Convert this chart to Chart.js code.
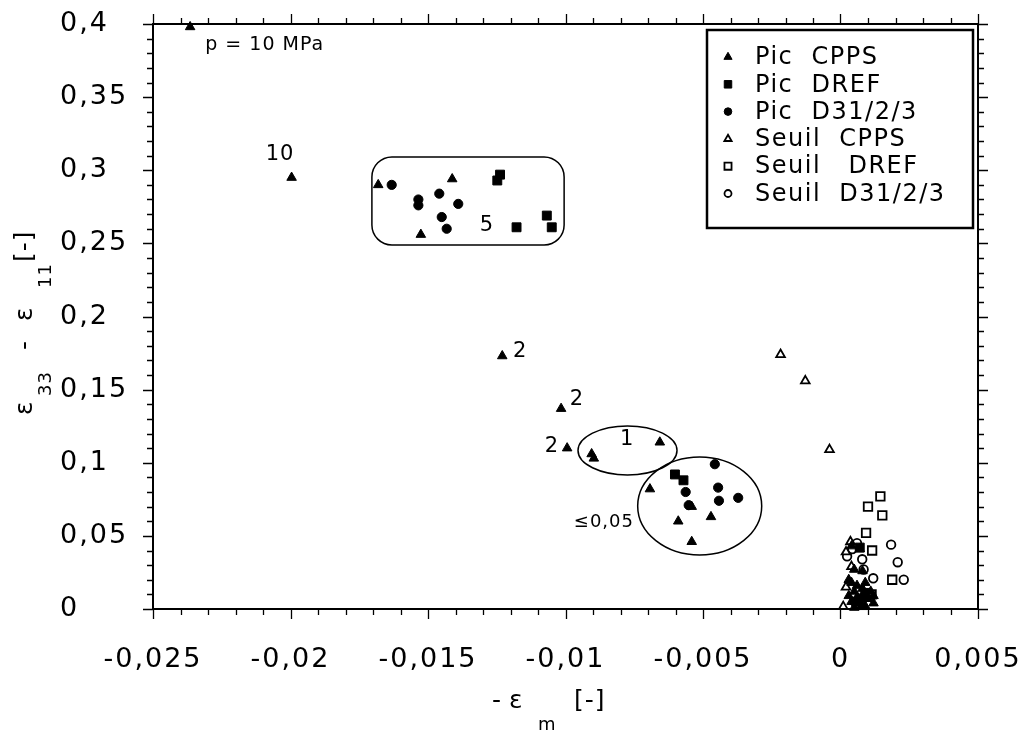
<!DOCTYPE html>
<html>
<head>
<meta charset="utf-8">
<script src="https://cdn.jsdelivr.net/npm/chart.js@4.4.0/dist/chart.umd.min.js"></script>
<style>
  html, body { margin: 0; padding: 0; background: #fff; }
  #wrap { width: 1022px; height: 731px; }
</style>
</head>
<body>
<div id="wrap"><canvas id="chart" width="1022" height="731"></canvas></div>
<script>
// Axis ranges and tick steps
const xRange = [-0.025, 0.005];
const yRange = [0, 0.4];
const xTickStep = 0.001;
const yTickStep = 0.01;

// Series: x = -eps_m, y = eps33 - eps11
const picCppsX = [-0.02365, -0.01996, -0.01681, -0.01412, -0.01526, -0.0123, -0.01016, -0.00994, -0.00905, -0.00897,
  -0.00657, -0.00693, -0.0059, -0.00471, -0.00541, -0.00541,
  0.0004, 0.0007, 0.0005, 0.0008, 0.0004, 0.0006, 0.0008, 0.0005, 0.0009, 0.0006, 0.0010, 0.0004, 0.0007, 0.0009, 0.0005, 0.0012,
  0.0003, 0.0009, 0.0011, 0.0003, 0.0012, 0.0008];
const picCppsY = [0.398, 0.295, 0.290, 0.294, 0.256, 0.173, 0.137, 0.110, 0.106, 0.103,
  0.114, 0.082, 0.060, 0.063, 0.046, 0.070,
  0.043, 0.041, 0.027, 0.026, 0.018, 0.016, 0.014, 0.012, 0.010, 0.008, 0.007, 0.005, 0.004, 0.002, 0.001, 0.004,
  0.020, 0.018, 0.012, 0.009, 0.009, 0.0015];

const picDrefX = [-0.01238, -0.01248, -0.01178, -0.01068, -0.0105, -0.00602, -0.00571, 0.0007, 0.0009];
const picDrefY = [0.297, 0.293, 0.261, 0.269, 0.261, 0.092, 0.088, 0.042, 0.011];

const picD31X = [-0.01632, -0.01535, -0.01535, -0.01459, -0.0139, -0.0145, -0.01432,
  -0.00457, -0.00563, -0.00445, -0.00442, -0.00372, -0.00552, 0.0008, 0.0005];
const picD31Y = [0.290, 0.280, 0.276, 0.284, 0.277, 0.268, 0.260,
  0.099, 0.080, 0.083, 0.074, 0.076, 0.071, 0.008, 0.005];

const seuilCppsX = [-0.00218, -0.00128, -0.0004, 0.00036, 0.0002, 0.0004, 0.0002, 0.0001, 0.0008];
const seuilCppsY = [0.174, 0.156, 0.109, 0.046, 0.039, 0.029, 0.015, 0.0016, 0.003];

const seuilDrefX = [0.00145, 0.001, 0.00152, 0.00093, 0.00115, 0.00188, 0.00113, 0.0006];
const seuilDrefY = [0.077, 0.070, 0.064, 0.052, 0.040, 0.020, 0.010, 0.004];

const seuilD31X = [0.00184, 0.00208, 0.0023, 0.00079, 0.00024, 0.00119, 0.00043, 0.00084, 0.0006];
const seuilD31Y = [0.044, 0.032, 0.020, 0.034, 0.036, 0.021, 0.041, 0.027, 0.045];

const seriesLabels = ['Pic  CPPS', 'Pic  DREF', 'Pic  D31/2/3', 'Seuil  CPPS', 'Seuil   DREF', 'Seuil  D31/2/3'];

// Text notes and outlines placed in data units
const noteTexts = ['p = 10 MPa', '10', '5', '2', '2', '2', '1', '\u22640,05'];
const noteX = [-0.0231, -0.02038, -0.01286, -0.01165, -0.00958, -0.01049, -0.00776, -0.00751];
const noteY = [0.3856, 0.3104, 0.2619, 0.1757, 0.1429, 0.1108, 0.1156, 0.0595];
const noteAlign = ['left', 'center', 'center', 'center', 'center', 'center', 'center', 'right'];
const noteSize = [19, 21, 21, 21, 21, 21, 21, 18];

const boxCorners = [-0.01704, 0.3091, -0.01005, 0.2489];            // x1, y1, x2, y2
const ellipseSpecs = [[-0.007745, 0.1084, 0.0018, 0.01675],        // cx, cy, rx, ry
                      [-0.00512, 0.0704, 0.002255, 0.0335]];

const FONT = 'DejaVu Sans';

function toPoints(xs, ys) {
  return xs.map((x, i) => ({ x: x, y: ys[i] }));
}

function fmt(v) {
  return parseFloat(v.toFixed(3)).toString().replace('.', ',');
}

const filled = { backgroundColor: '#000', borderColor: '#000', borderWidth: 1 };
const hollow = { backgroundColor: '#fff', borderColor: '#000', borderWidth: 1.8 };

const datasets = [
  Object.assign({ label: seriesLabels[0], data: toPoints(picCppsX, picCppsY), pointStyle: 'triangle', pointRadius: 5.5 }, filled),
  Object.assign({ label: seriesLabels[1], data: toPoints(picDrefX, picDrefY), pointStyle: 'rect', pointRadius: 6.3 }, filled),
  Object.assign({ label: seriesLabels[2], data: toPoints(picD31X, picD31Y), pointStyle: 'circle', pointRadius: 4.6 }, filled),
  Object.assign({ label: seriesLabels[3], data: toPoints(seuilCppsX, seuilCppsY), pointStyle: 'triangle', pointRadius: 5 }, hollow),
  Object.assign({ label: seriesLabels[4], data: toPoints(seuilDrefX, seuilDrefY), pointStyle: 'rect', pointRadius: 6 }, hollow),
  Object.assign({ label: seriesLabels[5], data: toPoints(seuilD31X, seuilD31Y), pointStyle: 'circle', pointRadius: 4.3 }, hollow)
];
datasets.forEach(d => { d.clip = 10; d.pointHoverRadius = d.pointRadius; });

// wider letter spacing for the tick labels, like the scanned original
const spacingPlugin = {
  id: 'spacing',
  beforeDraw(chart) { chart.ctx.letterSpacing = '2px'; },
  afterDraw(chart) { chart.ctx.letterSpacing = '0px'; }
};

// Frame, outward ticks (long at labelled values), notes, legend and axis titles
const decorPlugin = {
  id: 'decor',
  afterDatasetsDraw(chart) {
    const ctx = chart.ctx;
    const a = chart.chartArea;
    const xs = chart.scales.x;
    const ys = chart.scales.y;
    ctx.save();
    ctx.letterSpacing = '1px';
    ctx.strokeStyle = '#000';
    ctx.fillStyle = '#000';

    // frame
    ctx.lineWidth = 2;
    ctx.strokeRect(a.left, a.top, a.right - a.left, a.bottom - a.top);

    // ticks
    ctx.lineWidth = 1.3;
    ctx.beginPath();
    xs.ticks.forEach(t => {
      const px = Math.round(xs.getPixelForValue(t.value)) + 0.5;
      const major = Math.round(t.value * 1000) % 5 === 0;
      const len = major ? 10 : 6;
      ctx.moveTo(px, a.bottom); ctx.lineTo(px, a.bottom + len);
      ctx.moveTo(px, a.top); ctx.lineTo(px, a.top - len);
    });
    ys.ticks.forEach(t => {
      const py = Math.round(ys.getPixelForValue(t.value)) + 0.5;
      const major = Math.round(t.value * 100) % 5 === 0;
      const len = major ? 10 : 6;
      ctx.moveTo(a.left, py); ctx.lineTo(a.left - len, py);
      ctx.moveTo(a.right, py); ctx.lineTo(a.right + len, py);
    });
    ctx.stroke();

    // rounded box and ellipses
    ctx.lineWidth = 1.5;
    const bx1 = xs.getPixelForValue(boxCorners[0]), by1 = ys.getPixelForValue(boxCorners[1]);
    const bx2 = xs.getPixelForValue(boxCorners[2]), by2 = ys.getPixelForValue(boxCorners[3]);
    ctx.beginPath();
    ctx.roundRect(bx1, by1, bx2 - bx1, by2 - by1, 20);
    ctx.stroke();
    ellipseSpecs.forEach(e => {
      const cx = xs.getPixelForValue(e[0]);
      const cy = ys.getPixelForValue(e[1]);
      const rx = xs.getPixelForValue(e[0] + e[2]) - cx;
      const ry = cy - ys.getPixelForValue(e[1] + e[3]);
      ctx.beginPath();
      ctx.ellipse(cx, cy, rx, ry, 0, 0, Math.PI * 2);
      ctx.stroke();
    });

    // notes
    ctx.textBaseline = 'middle';
    noteTexts.forEach((txt, i) => {
      ctx.font = noteSize[i] + 'px "' + FONT + '"';
      ctx.textAlign = noteAlign[i];
      ctx.fillText(txt, xs.getPixelForValue(noteX[i]), ys.getPixelForValue(noteY[i]));
    });

    // legend
    const lw = 266, lh = 198;
    const lx = a.right - 5 - lw, ly = a.top + 6;
    ctx.fillStyle = '#fff';
    ctx.fillRect(lx, ly, lw, lh);
    ctx.lineWidth = 2.5;
    ctx.strokeRect(lx, ly, lw, lh);
    ctx.font = '24px "' + FONT + '"';
    ctx.letterSpacing = '1.5px';
    ctx.textAlign = 'left';
    chart.data.datasets.forEach((d, i) => {
      const cy = ly + 27 + i * 27.3;
      ctx.fillStyle = d.backgroundColor;
      ctx.strokeStyle = d.borderColor;
      ctx.lineWidth = d.borderWidth;
      const r = d.pointStyle === 'rect' ? d.pointRadius - 1 : d.pointRadius - 0.8;
      Chart.helpers.drawPoint(ctx, { pointStyle: d.pointStyle, radius: r, borderWidth: d.borderWidth, rotation: 0 }, lx + 21, cy);
      ctx.fillStyle = '#000';
      ctx.fillText(d.label, lx + 48, cy + 1);
    });
    ctx.letterSpacing = '1px';

    // x axis title: - eps_m [-]
    ctx.fillStyle = '#000';
    ctx.textBaseline = 'alphabetic';
    ctx.textAlign = 'left';
    ctx.font = '25px "' + FONT + '"';
    ctx.fillText('-', 492, 708);
    ctx.fillText('\u03b5', 509, 708);
    ctx.fillText('[-]', 574, 708);
    ctx.font = '18px "' + FONT + '"';
    ctx.fillText('m', 538, 730);

    // y axis title: eps_33 - eps_11 [-]
    ctx.translate(25, 316);
    ctx.rotate(-Math.PI / 2);
    ctx.font = '25px "' + FONT + '"';
    ctx.textBaseline = 'middle';
    ctx.fillText('\u03b5', -99, 0);
    ctx.fillText('-', -34, 0);
    ctx.fillText('\u03b5', -5, 0);
    ctx.fillText('[-]', 54, 0);
    ctx.font = '18px "' + FONT + '"';
    ctx.fillText('33', -80, 21);
    ctx.fillText('11', 28, 21);
    ctx.restore();
  }
};

const canvas = document.getElementById('chart');
const chart = new Chart(canvas, {
  type: 'scatter',
  data: { datasets: datasets },
  plugins: [spacingPlugin, decorPlugin],
  options: {
    responsive: false,
    animation: false,
    devicePixelRatio: 1,
    layout: { padding: { left: 60, right: 44, top: 24, bottom: 0 } },
    plugins: {
      legend: { display: false },
      tooltip: { enabled: false }
    },
    scales: {
      x: {
        type: 'linear',
        min: xRange[0],
        max: xRange[1],
        grid: { display: false, drawTicks: false },
        border: { display: false },
        ticks: {
          stepSize: xTickStep,
          autoSkip: false,
          maxRotation: 0,
          padding: 35,
          color: '#000',
          font: { family: FONT, size: 27 },
          callback: v => (Math.round(v * 1000) % 5 === 0 ? fmt(v) : '')
        },
        afterFit: s => { s.height = 731 - 609; s.paddingLeft = 0; s.paddingRight = 0; }
      },
      y: {
        type: 'linear',
        min: yRange[0],
        max: yRange[1],
        grid: { display: false, drawTicks: false },
        border: { display: false },
        ticks: {
          stepSize: yTickStep,
          autoSkip: false,
          crossAlign: 'far',
          color: '#000',
          font: { family: FONT, size: 27 },
          callback: v => (Math.round(v * 100) % 5 === 0 ? fmt(v) : '')
        },
        afterFit: s => { s.width = 153 - 60; s.paddingTop = 0; s.paddingBottom = 0; }
      }
    }
  }
});
</script>
</body>
</html>
